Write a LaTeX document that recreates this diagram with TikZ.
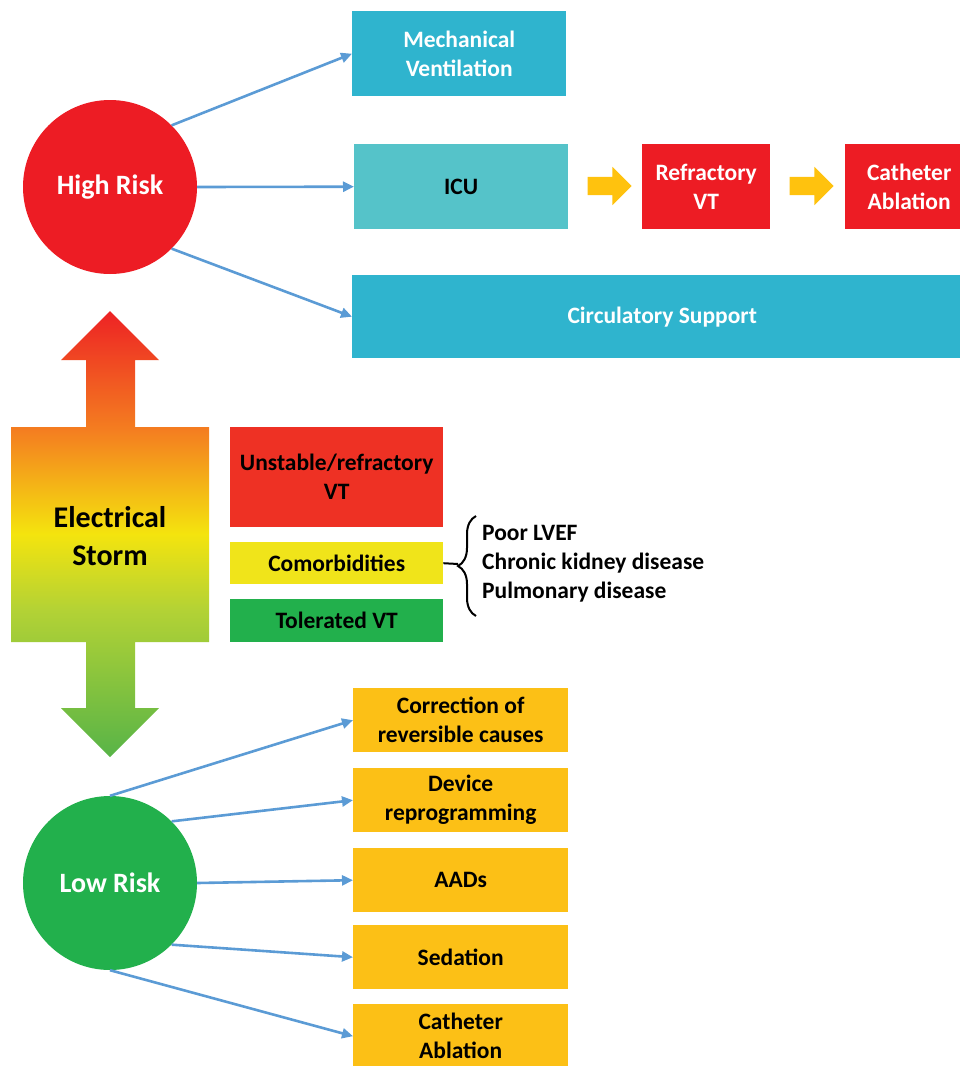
\documentclass[tikz,border=0pt]{standalone}
\usepackage{fontspec}
\setmainfont{Carlito}
\usepackage{xcolor}
\definecolor{Cyan}{HTML}{2FB4CE}
\definecolor{CyanLight}{HTML}{55C3C9}
\definecolor{RiskRed}{HTML}{ED1C24}
\definecolor{VTRed}{HTML}{EE3124}
\definecolor{CoYellow}{HTML}{F0E41A}
\definecolor{TolGreen}{HTML}{22B04C}
\definecolor{Amber}{HTML}{FCC016}
\definecolor{ArrYellow}{HTML}{FFC20E}
\definecolor{LinkBlue}{HTML}{5B9BD5}
\definecolor{StormRed}{HTML}{ED2224}
\definecolor{StormOrange}{HTML}{F47F20}
\definecolor{StormYellow}{HTML}{F4E40E}
\definecolor{StormLime}{HTML}{B3D235}
\definecolor{StormGreen}{HTML}{58B447}
\usetikzlibrary{arrows.meta, positioning, shapes.arrows, decorations.pathreplacing}
\pgfdeclareverticalshading{stormshade}{100bp}{color(0bp)=(StormGreen); color(25bp)=(StormGreen); color(41.5bp)=(StormLime); color(50bp)=(StormYellow); color(61.5bp)=(StormOrange); color(75bp)=(StormRed); color(100bp)=(StormRed)}
\newcommand\boxfont{\fontsize{23.5}{29}\selectfont\bfseries}
\newcommand\riskfont{\fontsize{28}{32}\selectfont\bfseries}
\tikzset{
  box/.style={
    rectangle, anchor=north west, inner sep=0pt,
    align=center, font=\boxfont, text=black
  },
  hbox/.style={box, minimum width=#1, minimum height=85pt},
  hbox/.default=214pt,
  lbox/.style={box, fill=Amber, minimum width=215pt, minimum height=64pt},
  risk/.style={circle, minimum size=174pt, inner sep=0pt, text=white, font=\riskfont},
  link/.style={-{Triangle[length=11pt, width=10pt]}, line width=2.6pt, color=LinkBlue},
  yarrow/.style={single arrow, fill=ArrYellow, inner xsep=0pt, inner ysep=9pt,
    minimum height=44pt, single arrow head extend=10pt},
}

\begin{document}
\begin{tikzpicture}[x=1pt, y=-1pt]
\useasboundingbox (0,0) rectangle (960,1066);

% high risk branch
\node[risk, fill=RiskRed] (hr) at (110,187) {High Risk};
\node[hbox, fill=Cyan, text=white] (mv) at (352,11) {Mechanical\\Ventilation};
\node[hbox, fill=CyanLight] (icu) at (354,144) {ICU};
\node[hbox=128pt, fill=RiskRed, text=white] (rvt) at (642,144) {Refractory\\VT};
\node[hbox=128pt, fill=RiskRed, text=white] (hca) at (845,144) {Catheter\\Ablation};
\node[hbox=620pt, fill=Cyan, text=white, minimum height=83pt] (cs) at (352,275) {Circulatory Support};
\node[yarrow] (ya1) at (605,186) {};
\node[yarrow] (ya2) at (807,186) {};

\draw[link] (hr.45) -- (mv.west);
\draw[link] (hr.east) -- (icu.west);
\draw[link] (hr.-45) -- (cs.west);

% electrical storm
\shade[shading=stormshade] (110,311) -- (159,360) -- (135,360) -- (135,427)
  -- (209,427) -- (209,642) -- (135,642) -- (135,708) -- (159,708)
  -- (110,757) -- (61,708) -- (86,708) -- (86,642) -- (11,642)
  -- (11,427) -- (86,427) -- (86,360) -- (61,360) -- cycle;
\node[font=\fontsize{30}{38}\selectfont\bfseries, align=center] (es) at (110,536) {Electrical\\Storm};

\node[box, fill=VTRed, minimum width=213pt, minimum height=100pt] (uvt) at (230,427) {Unstable/refractory\\VT};
\node[box, fill=CoYellow, minimum width=213pt, minimum height=42pt] (cm) at (230,542) {Comorbidities};
\node[box, fill=TolGreen, minimum width=213pt, minimum height=43pt] (tvt) at (230,599) {Tolerated VT};
\node[anchor=west, align=left, inner sep=0pt, font=\boxfont] (cml) at (482,564) {Poor LVEF\\Chronic kidney disease\\Pulmonary disease};
\coordinate (brtip) at (458,564);
\draw[line width=2pt, decorate, decoration={brace, amplitude=18pt}] (476,616) -- (476,516);
\draw[line width=2pt] (cm.east) -- (brtip);

% low risk branch
\node[risk, fill=TolGreen] (lr) at (110,883) {Low Risk};
\node[lbox] (cor) at (353,688) {Correction of\\reversible causes};
\node[lbox] (dev) at (353,768) {Device\\reprogramming};
\node[lbox] (aad) at (353,848) {AADs};
\node[lbox] (sed) at (353,925) {Sedation};
\node[lbox] (lca) at (353,1004) {Catheter\\Ablation};

\draw[link] (lr.north) -- (cor.west);
\draw[link] (lr.45) -- (dev.west);
\draw[link] (lr.east) -- (aad.west);
\draw[link] (lr.-45) -- (sed.west);
\draw[link] (lr.south) -- (lca.west);

\end{tikzpicture}
\end{document}
